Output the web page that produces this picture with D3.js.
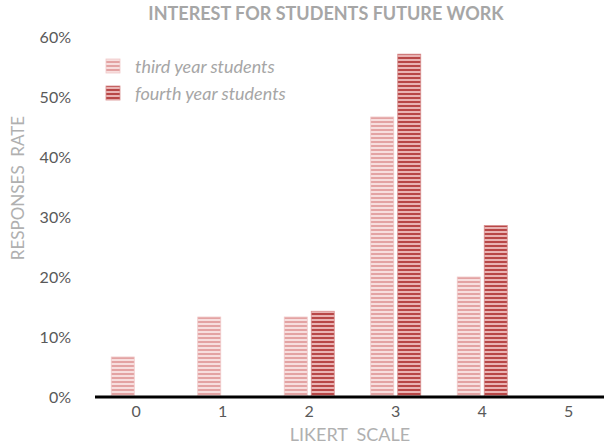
<!DOCTYPE html>
<html>
<head>
<meta charset="utf-8">
<script src="https://cdn.jsdelivr.net/npm/d3@7"></script>
<style>
  html, body { margin: 0; padding: 0; background: #fff; }
  svg { display: block; font-family: Lato, "Open Sans", sans-serif; }
</style>
</head>
<body>
<svg id="chart" width="604" height="447"></svg>
<script>
// Likert scale answers and share of responses per student group
const categories = ["0", "1", "2", "3", "4", "5"];
const seriesNames = ["third year students", "fourth year students"];
const thirdYear = [0.0667, 0.1333, 0.1333, 0.4667, 0.20, 0];
const fourthYear = [0, 0, 0.1429, 0.5714, 0.2857, 0];
const yTicks = [0, 0.1, 0.2, 0.3, 0.4, 0.5, 0.6];

const svg = d3.select("#chart");

// Striped fills for each series
const defs = svg.append("defs");
const fills = [
  { id: "stripeThird", bg: "#f7dede", line: "#e3a3a3", edge: "#f0c8c8" },
  { id: "stripeFourth", bg: "#e9b3b3", line: "#b84747", edge: "#d88c8c" }
];
fills.forEach(f => {
  const p = defs.append("pattern")
    .attr("id", f.id)
    .attr("patternUnits", "userSpaceOnUse")
    .attr("width", 8).attr("height", 4);
  p.append("rect").attr("width", 8).attr("height", 4).attr("fill", f.bg);
  p.append("rect").attr("y", 1).attr("width", 8).attr("height", 2).attr("fill", f.line);
});

const x = d3.scaleBand().domain(categories).range([93, 612]);
const y = d3.scaleLinear().domain([0, 0.6]).range([397, 37]);

const barW = 23, gap = 4;
const series = [thirdYear, fourthYear];

series.forEach((vals, si) => {
  svg.append("g").selectAll("rect")
    .data(vals.map((v, i) => ({ v, c: categories[i] })).filter(d => d.v > 0))
    .join("rect")
    .attr("x", d => x(d.c) + x.bandwidth() / 2 + (si === 0 ? -(barW + gap / 2) : gap / 2))
    .attr("y", d => y(d.v))
    .attr("width", barW)
    .attr("height", d => y(0) - y(d.v))
    .attr("fill", `url(#${fills[si].id})`)
    .attr("stroke", fills[si].edge)
    .attr("stroke-width", 0.8);
});

// Y axis labels
const yAxis = d3.axisLeft(y).tickValues(yTicks).tickFormat(d3.format(".0%")).tickSize(0).tickPadding(0);
const gy = svg.append("g").attr("transform", "translate(71,0)").call(yAxis);
gy.select(".domain").remove();
gy.selectAll("text").attr("fill", "#595959").style("font-size", "16px")
  .style("font-family", "Lato, 'Open Sans', sans-serif");

// X axis baseline and labels
const xAxis = d3.axisBottom(x).tickSize(0).tickPadding(9);
const gx = svg.append("g").attr("transform", `translate(0,${y(0)})`).call(xAxis);
gx.select(".domain").remove();
gx.selectAll("text").attr("fill", "#595959").style("font-size", "16px")
  .style("font-family", "Lato, 'Open Sans', sans-serif");
svg.append("line")
  .attr("x1", 95).attr("x2", 604)
  .attr("y1", y(0)).attr("y2", y(0))
  .attr("stroke", "#000").attr("stroke-width", 3);

// Titles
svg.append("text")
  .attr("x", 326).attr("y", 20)
  .attr("text-anchor", "middle")
  .attr("fill", "#a6a6a6")
  .style("font-size", "18px").style("font-weight", "bold")
  .text("INTEREST FOR STUDENTS FUTURE WORK");

svg.append("text")
  .attr("transform", "translate(24,188) rotate(-90)")
  .attr("text-anchor", "middle")
  .attr("fill", "#b0b0b0")
  .style("font-size", "17px")
  .style("white-space", "pre")
  .text("RESPONSES  RATE");

svg.append("text")
  .attr("x", 350).attr("y", 441)
  .attr("text-anchor", "middle")
  .attr("fill", "#b0b0b0")
  .style("font-size", "18px")
  .style("white-space", "pre")
  .text("LIKERT  SCALE");

// Legend
const legend = svg.append("g");
seriesNames.forEach((name, i) => {
  const gy0 = 59 + i * 27;
  legend.append("rect")
    .attr("x", 106).attr("y", gy0)
    .attr("width", 14).attr("height", 14)
    .attr("fill", `url(#${fills[i].id})`)
    .attr("stroke", fills[i].edge).attr("stroke-width", 0.8);
  legend.append("text")
    .attr("x", 135).attr("y", gy0 + 14)
    .attr("fill", "#a6a6a6")
    .style("font-size", "18px").style("font-style", "italic")
    .text(name);
});
</script>
</body>
</html>
